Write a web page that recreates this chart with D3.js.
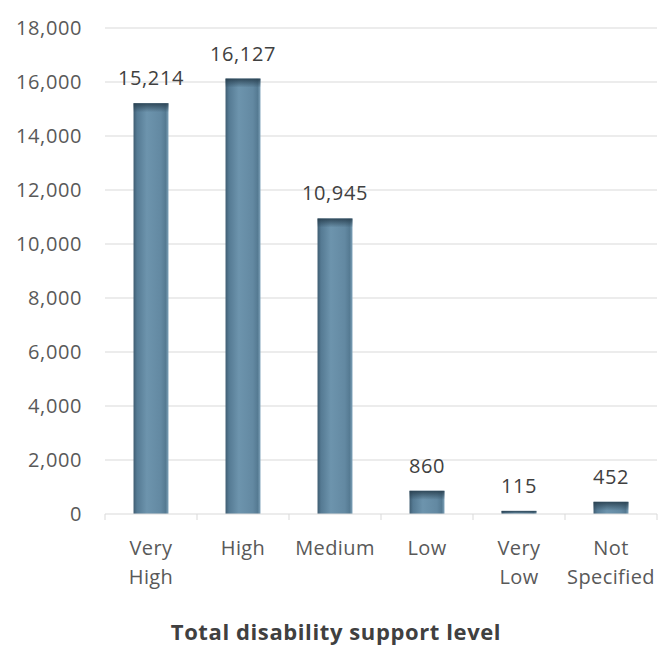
<!DOCTYPE html>
<html>
<head>
<meta charset="utf-8">
<script src="https://cdn.jsdelivr.net/npm/d3@7"></script>
<style>
  html, body { margin: 0; padding: 0; background: #fff; }
  svg { display: block; }
  text { font-family: "Open Sans", "Noto Sans", sans-serif; }
</style>
</head>
<body>
<svg id="chart" width="658" height="646"></svg>
<script>
// Disability support level counts
const categories = [["Very", "High"], ["High"], ["Medium"], ["Low"], ["Very", "Low"], ["Not", "Specified"]];
const values = [15214, 16127, 10945, 860, 115, 452];
const yTicks = [0, 2000, 4000, 6000, 8000, 10000, 12000, 14000, 16000, 18000];
const axisTitle = "Total disability support level";

const svg = d3.select("#chart");
const W = 658, H = 646;
const margin = { top: 28, right: 1, bottom: 132, left: 105 };
const plotW = W - margin.left - margin.right;
const plotH = H - margin.top - margin.bottom;

const keys = categories.map((c, i) => i);
const x = d3.scaleBand().domain(keys).range([margin.left, margin.left + plotW]).paddingInner(0.62).paddingOuter(0.31);
const xb = d3.scaleBand().domain(keys).range([margin.left, margin.left + plotW]).padding(0);
const y = d3.scaleLinear().domain([0, 18000]).range([margin.top + plotH, margin.top]);

// Bar shading: horizontal body gradient plus a darker fade at the top
const defs = svg.append("defs");
const g1 = defs.append("linearGradient").attr("id", "barFill").attr("x1", 0).attr("x2", 1).attr("y1", 0).attr("y2", 0);
[["0%", "#3f5d72"], ["10%", "#557a93"], ["38%", "#6d94ad"], ["78%", "#6389a2"], ["92%", "#557a92"], ["100%", "#7fa3ba"]]
  .forEach(([o, c]) => g1.append("stop").attr("offset", o).attr("stop-color", c));
const g2 = defs.append("linearGradient").attr("id", "capFill").attr("x1", 0).attr("x2", 0).attr("y1", 0).attr("y2", 1);
g2.append("stop").attr("offset", "0%").attr("stop-color", "#253b4a").attr("stop-opacity", 0.85);
g2.append("stop").attr("offset", "100%").attr("stop-color", "#253b4a").attr("stop-opacity", 0);

// Gridlines
svg.append("g").selectAll("line").data(yTicks.filter(d => d > 0)).join("line")
  .attr("x1", margin.left).attr("x2", margin.left + plotW)
  .attr("y1", d => y(d)).attr("y2", d => y(d))
  .attr("stroke", "#d9d9d9").attr("stroke-width", 1);

// Y tick labels
svg.append("g").selectAll("text").data(yTicks).join("text")
  .attr("x", 82).attr("y", d => y(d)).attr("dy", "0.35em")
  .attr("text-anchor", "end").attr("font-size", 20).attr("letter-spacing", 0.6).attr("fill", "#595959")
  .text(d => d3.format(",")(d));

// Bars
const bars = svg.append("g");
values.forEach((v, i) => {
  const bx = x(i), bw = x.bandwidth(), by = y(v), bh = y(0) - y(v);
  bars.append("rect").attr("x", bx).attr("y", by).attr("width", bw).attr("height", bh).attr("fill", "url(#barFill)");
  bars.append("rect").attr("x", bx).attr("y", by).attr("width", bw).attr("height", Math.min(9, bh)).attr("fill", "url(#capFill)");
});

// X axis line and ticks
const ax = svg.append("g");
ax.append("line").attr("x1", margin.left).attr("x2", margin.left + plotW)
  .attr("y1", y(0)).attr("y2", y(0)).attr("stroke", "#d9d9d9");
const bounds = keys.map(k => xb(k)).concat([margin.left + plotW]);
ax.selectAll("line.t").data(bounds).join("line").attr("class", "t")
  .attr("x1", d => d).attr("x2", d => d).attr("y1", y(0)).attr("y2", y(0) + 6)
  .attr("stroke", "#d9d9d9");

// Category labels
const cl = svg.append("g");
categories.forEach((lines, i) => {
  lines.forEach((s, j) => {
    cl.append("text").attr("x", xb(i) + xb.bandwidth() / 2).attr("y", 555 + j * 29)
      .attr("text-anchor", "middle").attr("font-size", 20).attr("letter-spacing", 0.4).attr("fill", "#595959").text(s);
  });
});

// Value labels
svg.append("g").selectAll("text").data(values).join("text")
  .attr("x", (d, i) => x(i) + x.bandwidth() / 2)
  .attr("y", d => y(d) - 18)
  .attr("text-anchor", "middle").attr("font-size", 20).attr("letter-spacing", 0.6).attr("fill", "#404040")
  .text(d => d3.format(",")(d));

// Axis title
svg.append("text").attr("x", 336).attr("y", 640).attr("text-anchor", "middle")
  .attr("font-size", 22).attr("letter-spacing", 0.6).attr("font-weight", "bold").attr("fill", "#404040").text(axisTitle);
</script>
</body>
</html>
